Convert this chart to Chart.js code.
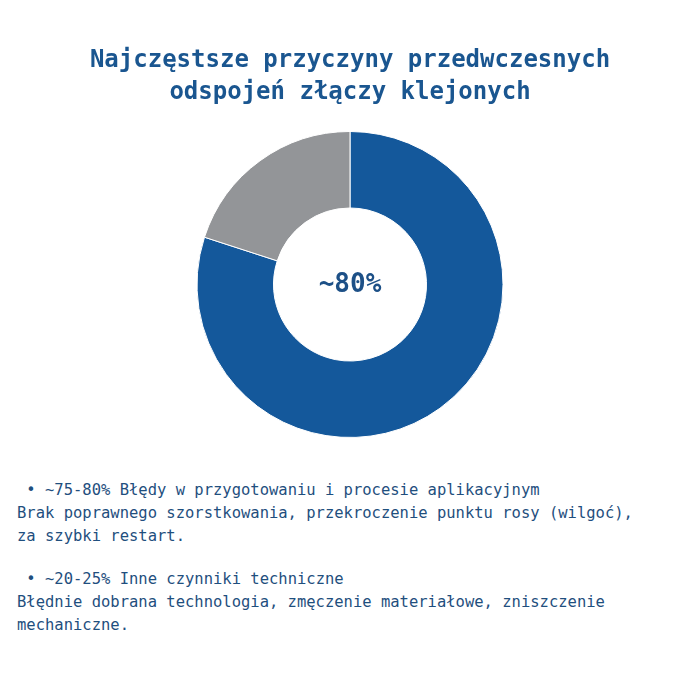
<!DOCTYPE html>
<html lang="pl">
<head>
<meta charset="UTF-8">
<title>Najczęstsze przyczyny przedwczesnych odspojeń złączy klejonych</title>
<script src="https://cdn.jsdelivr.net/npm/chart.js"></script>
<style>
    body {
      margin: 0;
      background: #ffffff;
      font-family: "DejaVu Sans Mono", monospace;
    }
    #wrap {
      width: 700px;
      height: 440px;
      position: relative;
    }
    #notes {
      margin: 39px 0 0 17px;
      width: 640px;
      color: #1f4f7e;
      font-size: 15.5px;
      line-height: 23px;
      white-space: pre-wrap;
    }
    #notes p {
      margin: 0 0 20px 0;
    }
</style>
</head>
<body>
<div id="wrap"><canvas id="causesChart"></canvas></div>
<div id="notes"></div>

<script>
    // data
    const titleLines = ['Najczęstsze przyczyny przedwczesnych', 'odspojeń złączy klejonych'];
    const categories = ['Błędy w przygotowaniu i procesie aplikacyjnym', 'Inne czynniki techniczne'];
    const shares = [80, 20];
    const shareLabels = ['~75-80%', '~20-25%'];
    const centerLabel = '~80%';
    const details = [
      'Brak poprawnego szorstkowania, przekroczenie punktu rosy (wilgoć), za szybki restart.',
      'Błędnie dobrana technologia, zmęczenie materiałowe, zniszczenie mechaniczne.'
    ];
    const colors = ['#14589b', '#939598'];

    // notes under the chart
    const notesEl = document.getElementById('notes');
    categories.forEach((cat, i) => {
      const p = document.createElement('p');
      p.textContent = ' • ' + shareLabels[i] + ' ' + cat + '\n' + details[i];
      notesEl.appendChild(p);
    });

    // text in the hole
    const centerText = {
      id: 'centerText',
      afterDatasetsDraw(chart) {
        const meta = chart.getDatasetMeta(0);
        if (!meta.data.length) return;
        const { x, y } = meta.data[0];
        const ctx = chart.ctx;
        ctx.save();
        ctx.font = 'bold 26px "DejaVu Sans Mono", monospace';
        ctx.fillStyle = '#1d5087';
        ctx.textAlign = 'center';
        ctx.textBaseline = 'middle';
        ctx.fillText(centerLabel, x, y + 1);
        ctx.restore();
      }
    };

    new Chart(document.getElementById('causesChart'), {
      type: 'doughnut',
      data: {
        labels: categories,
        datasets: [{
          data: shares,
          backgroundColor: colors,
          borderColor: '#ffffff',
          borderWidth: 1
        }]
      },
      options: {
        responsive: true,
        maintainAspectRatio: false,
        animation: false,
        cutout: '50%',
        layout: { padding: { top: 30, bottom: 2 } },
        plugins: {
          legend: { display: false },
          tooltip: { enabled: false },
          title: {
            display: true,
            text: titleLines,
            color: '#1a5690',
            font: { family: '"DejaVu Sans Mono", monospace', size: 24, weight: 'bold', lineHeight: 1.333 },
            padding: { top: 15, bottom: 22 }
          }
        }
      },
      plugins: [centerText]
    });
</script>
</body>
</html>
